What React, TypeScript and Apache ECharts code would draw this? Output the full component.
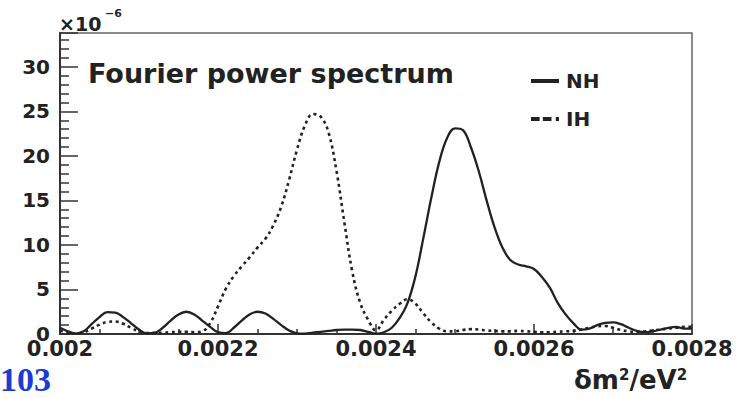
import React, { useEffect, useRef } from "react";
import * as echarts from "echarts";

// δm² sample positions (eV²)
const dm2 = [
  0.00200, 0.00201, 0.00202, 0.00203, 0.00204, 0.00205, 0.00206, 0.00207, 0.00208, 0.00209,
  0.00210, 0.00211, 0.00212, 0.00213, 0.00214, 0.00215, 0.00216, 0.00217, 0.00218, 0.00219,
  0.00220, 0.00221, 0.00222, 0.00223, 0.00224, 0.00225, 0.00226, 0.00227, 0.00228, 0.00229,
  0.00230, 0.00231, 0.00232, 0.00233, 0.00234, 0.00235, 0.00236, 0.00237, 0.00238, 0.00239,
  0.00240, 0.00241, 0.00242, 0.00243, 0.00244, 0.00245, 0.00246, 0.00247, 0.00248, 0.00249,
  0.00250, 0.00251, 0.00252, 0.00253, 0.00254, 0.00255, 0.00256, 0.00257, 0.00258, 0.00259,
  0.00260, 0.00261, 0.00262, 0.00263, 0.00264, 0.00265, 0.00266, 0.00267, 0.00268, 0.00269,
  0.00270, 0.00271, 0.00272, 0.00273, 0.00274, 0.00275, 0.00276, 0.00277, 0.00278, 0.00279,
  0.00280,
];

// Fourier power (×10⁻⁶), normal hierarchy (solid)
const nhPower = [
  0.7, 0.3, 0.05, 0.3, 1.1, 1.9, 2.45, 2.4, 1.9, 1.2,
  0.5, 0.08, 0.15, 0.7, 1.5, 2.2, 2.5, 2.2, 1.5, 0.8,
  0.2, 0.1, 0.7, 1.5, 2.2, 2.5, 2.3, 1.7, 1.0, 0.4,
  0.08, 0.05, 0.15, 0.25, 0.35, 0.45, 0.5, 0.5, 0.45, 0.25,
  0.05, 0.2, 0.7, 1.8, 3.5, 6.5, 10.8, 15.3, 19.3, 22.0,
  23.1, 22.9, 21.0, 18.3, 15.0, 12.0, 9.7, 8.3, 7.8, 7.6,
  7.3, 6.4, 5.2, 3.5, 2.2, 1.2, 0.5, 0.6, 1.0, 1.25,
  1.3, 1.1, 0.7, 0.35, 0.2, 0.3, 0.5, 0.7, 0.8, 0.6,
  0.6,
];

// Fourier power (×10⁻⁶), inverted hierarchy (dashed)
const ihPower = [
  0.4, 0.1, 0.05, 0.2, 0.6, 1.05, 1.35, 1.4, 1.15, 0.7,
  0.3, 0.1, 0.1, 0.15, 0.2, 0.25, 0.25, 0.2, 0.3, 1.2,
  3.1, 5.1, 6.5, 7.6, 8.6, 9.7, 10.7, 12.2, 14.3, 17.3,
  20.7, 23.4, 24.7, 24.4, 22.6, 18.3, 12.5, 7.0, 3.5, 1.6,
  0.4, 1.6, 2.6, 3.4, 3.9, 3.4, 2.3, 1.3, 0.6, 0.3,
  0.3, 0.45, 0.55, 0.5, 0.4, 0.35, 0.3, 0.3, 0.35, 0.3,
  0.25, 0.2, 0.2, 0.25, 0.3, 0.35, 0.5, 0.7, 0.85, 0.9,
  0.7, 0.45, 0.3, 0.25, 0.3, 0.4, 0.5, 0.6, 0.7, 0.8,
  0.8,
];

const seriesNames = ["NH", "IH"];
const titleText = "Fourier power spectrum";
const FONT = "DejaVu Sans";
const INK = "#222";

export default function App() {
  const ref = useRef<HTMLDivElement>(null);

  useEffect(() => {
    if (!ref.current) return;
    const chart = echarts.init(ref.current, null, { renderer: "svg" });
    const nhData = dm2.map((x, i) => [x, nhPower[i]]);
    const ihData = dm2.map((x, i) => [x, ihPower[i]]);

    chart.setOption({
      animation: false,
      backgroundColor: "#fff",
      grid: {
        left: 60,
        top: 33,
        right: 52,
        bottom: 64,
        show: true,
        borderColor: "#666",
        borderWidth: 1.5,
        backgroundColor: "#fff",
      },
      legend: {
        orient: "vertical",
        left: 526,
        top: 66,
        itemWidth: 28,
        itemHeight: 4,
        itemGap: 18,
        symbolKeepAspect: false,
        data: [
          { name: seriesNames[0], icon: "path://M0,0H28V4H0Z" },
          { name: seriesNames[1], icon: "path://M0,0H8V4H0Z M11,0H19V4H11Z M23,0H26V4H23Z" },
        ],
        itemStyle: { color: INK },
        textStyle: { fontFamily: FONT, fontWeight: "bold", fontSize: 20, color: INK, padding: [0, 0, 0, 2] },
      },
      xAxis: {
        type: "value",
        min: 0.002,
        max: 0.0028,
        interval: 0.0002,
        splitLine: { show: false },
        axisLine: { show: true, lineStyle: { color: "#333", width: 2 } },
        axisTick: { show: true, inside: true, length: 10, lineStyle: { color: "#333", width: 1.5 } },
        minorTick: { show: true, splitNumber: 4, length: 5, lineStyle: { color: "#333", width: 1.5 } },
        axisLabel: {
          margin: 4,
          fontFamily: FONT,
          fontWeight: "bold",
          fontSize: 21,
          color: INK,
          formatter: (v: number) => String(Number(v.toFixed(5))),
        },
      },
      yAxis: {
        type: "value",
        min: 0,
        max: 33.8,
        interval: 5,
        splitLine: { show: false },
        axisLine: { show: true, lineStyle: { color: "#333", width: 2 } },
        axisTick: { show: true, inside: true, length: 18, lineStyle: { color: "#333", width: 1.5 } },
        minorTick: { show: true, splitNumber: 5, length: 9, lineStyle: { color: "#333", width: 1.5 } },
        axisLabel: {
          margin: 10,
          showMaxLabel: false,
          fontFamily: FONT,
          fontWeight: "bold",
          fontSize: 20,
          color: INK,
        },
      },
      series: [
        {
          name: seriesNames[0],
          type: "line",
          data: nhData,
          smooth: 0.4,
          symbol: "none",
          lineStyle: { color: INK, width: 2.3, type: "solid" },
          itemStyle: { color: INK },
        },
        {
          name: seriesNames[1],
          type: "line",
          data: ihData,
          smooth: 0.4,
          symbol: "none",
          lineStyle: { color: INK, width: 2.6, type: [3, 3.5] },
          itemStyle: { color: INK },
        },
      ],
      graphic: [
        {
          type: "text",
          left: 88,
          top: 60,
          style: {
            text: titleText,
            font: `bold 27px "${FONT}"`,
            fill: INK,
          },
        },
        {
          type: "text",
          left: 59,
          top: 14,
          style: { text: "×10", font: `bold 19px "${FONT}"`, fill: INK },
        },
        {
          type: "text",
          left: 105,
          top: 8,
          style: { text: "−6", font: `bold 11px "${FONT}"`, fill: INK },
        },
        {
          type: "text",
          left: 574,
          top: 367,
          style: {
            text: "{a|δm}{s|2}{a|/eV}{s|2}",
            fill: INK,
            rich: {
              a: { fontFamily: FONT, fontWeight: "bold", fontSize: 26, fill: INK, verticalAlign: "bottom" },
              s: { fontFamily: FONT, fontWeight: "bold", fontSize: 15, fill: INK, verticalAlign: "top" },
            },
          },
        },
        {
          type: "text",
          left: 0,
          top: 362,
          style: {
            text: "103",
            font: 'bold 34px "Liberation Serif"',
            fill: "#1b3bd4",
          },
        },
      ],
    });

    return () => chart.dispose();
  }, []);

  return (
    <div
      ref={ref}
      style={{ position: "fixed", left: 0, top: 0, width: 744, height: 398, background: "#fff" }}
    />
  );
}
